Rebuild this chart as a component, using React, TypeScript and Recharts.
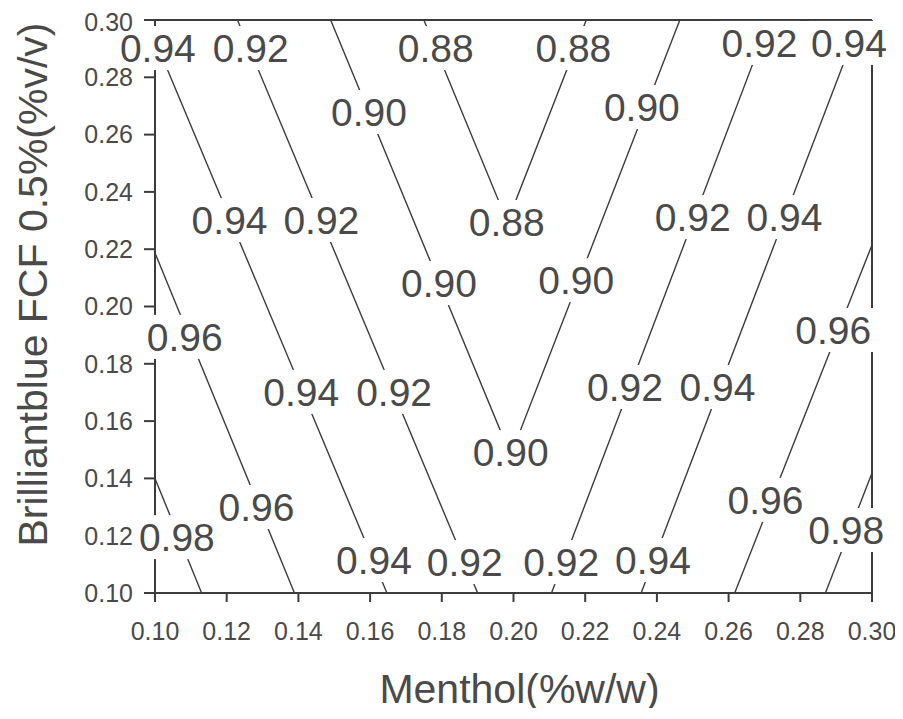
import { ComposedChart, Line, ReferenceLine, Scatter, XAxis, YAxis } from 'recharts'

// contour levels of the response surface, one entry per drawn contour line
const contourLevel = [0.98, 0.96, 0.94, 0.92, 0.9, 0.88, 0.92, 0.94, 0.96, 0.98]

// vertices of each contour (menthol %w/w)
const contourX = [
  [0.1, 0.113],
  [0.1, 0.1389],
  [0.1, 0.1647],
  [0.123, 0.19],
  [0.149, 0.1992, 0.2464],
  [0.175, 0.1983, 0.2203],
  [0.2106, 0.2714],
  [0.2356, 0.2967],
  [0.2617, 0.3],
  [0.287, 0.3],
]

// vertices of each contour (brilliant blue %v/v)
const contourY = [
  [0.14, 0.1],
  [0.2187, 0.1],
  [0.293, 0.1],
  [0.3, 0.1],
  [0.3, 0.148, 0.3],
  [0.3, 0.2295, 0.3],
  [0.1, 0.3],
  [0.1, 0.3],
  [0.1, 0.2215],
  [0.1, 0.1419],
]

// inline contour labels: where they sit and which contour they name
const labelX = [
  0.1008, 0.1267, 0.1597, 0.1783, 0.2167, 0.2358, 0.2686, 0.2936, 0.1208, 0.1464, 0.1981, 0.25, 0.2756, 0.1792, 0.2175,
  0.1083, 0.2892, 0.1408, 0.1667, 0.2311, 0.2569, 0.1992, 0.1283, 0.2703, 0.1061, 0.2928, 0.1611, 0.1864, 0.2133, 0.2389,
]
const labelY = [
  0.2902, 0.2902, 0.2679, 0.2902, 0.2902, 0.2696, 0.292, 0.292, 0.2302, 0.2302, 0.2295, 0.2312, 0.2312, 0.2082, 0.2092,
  0.1894, 0.1918, 0.1702, 0.1702, 0.1719, 0.1719, 0.1492, 0.13, 0.1325, 0.1195, 0.122, 0.1115, 0.1108, 0.1108, 0.1115,
]
const labelOn = [2, 3, 4, 5, 5, 4, 6, 7, 2, 3, 5, 6, 7, 4, 4, 1, 8, 2, 3, 6, 7, 4, 1, 8, 0, 9, 2, 3, 6, 7]

const axisTicks = [0.1, 0.12, 0.14, 0.16, 0.18, 0.2, 0.22, 0.24, 0.26, 0.28, 0.3]
const AXIS_MAX = 0.3

const INK = '#3c3c3c'
const TEXT = '#4a4a4a'
const FONT = '"Liberation Sans", Arial, sans-serif'

const contours = contourLevel.map((level, i) => ({
  level,
  points: contourX[i].map((x, j) => ({ x, y: contourY[i][j] })),
}))

const labels = labelX.map((x, i) => ({ x, y: labelY[i], level: contourLevel[labelOn[i]] }))

// white box under the text so the contour (and frame) is broken around it
function ContourLabel({ cx, cy, payload }: any) {
  if (cx == null || cy == null) return null
  return (
    <g>
      <rect x={cx - 40} y={cy - 22} width={80} height={44} fill="#fff" />
      <text x={cx} y={cy + 14} textAnchor="middle" fontSize={39} fontFamily={FONT} fill={TEXT}>
        {payload.level.toFixed(2)}
      </text>
    </g>
  )
}

const tickStyle = { fontSize: 25, fontFamily: FONT, fill: TEXT }

export default function App() {
  return (
    <div style={{ background: '#fff', width: 887, height: 712, marginBottom: -12 }}>
      <ComposedChart width={887} height={712} margin={{ top: 12, right: 23, left: 0, bottom: 0 }}>
        <XAxis
          dataKey="x"
          type="number"
          domain={[0.1, AXIS_MAX]}
          ticks={axisTicks}
          tickFormatter={(v: number) => v.toFixed(2)}
          height={127}
          tick={tickStyle}
          tickSize={9}
          tickMargin={20}
          stroke={INK}
          axisLine={{ stroke: INK, strokeWidth: 2 }}
          tickLine={{ stroke: INK, strokeWidth: 2 }}
          label={({ viewBox }: any) => (
            <text
              x={viewBox.x + viewBox.width / 2 + 6}
              y={viewBox.y + 110}
              textAnchor="middle"
              fontSize={41}
              fontFamily={FONT}
              fill={TEXT}
            >
              Menthol(%w/w)
            </text>
          )}
        />
        <YAxis
          dataKey="y"
          type="number"
          domain={[0.1, AXIS_MAX]}
          ticks={axisTicks}
          tickFormatter={(v: number) => v.toFixed(2)}
          width={147}
          tick={tickStyle}
          tickSize={11}
          tickMargin={11}
          axisLine={{ stroke: INK, strokeWidth: 2 }}
          tickLine={{ stroke: INK, strokeWidth: 2 }}
          label={({ viewBox }: any) => {
            const cx = 25
            const cy = viewBox.y + viewBox.height / 2 - 22
            return (
              <text
                x={cx}
                y={cy}
                transform={`rotate(-90, ${cx}, ${cy})`}
                textAnchor="middle"
                dominantBaseline="central"
                fontSize={41}
                fontFamily={FONT}
                fill={TEXT}
              >
                Brilliantblue FCF 0.5%(%v/v)
              </text>
            )
          }}
        />
        {/* top and right edges of the frame */}
        <ReferenceLine y={AXIS_MAX} stroke={INK} strokeWidth={2} />
        <ReferenceLine x={AXIS_MAX} stroke={INK} strokeWidth={2} />
        {contours.map((c, i) => (
          <Line
            key={i}
            data={c.points}
            dataKey="y"
            stroke={INK}
            strokeWidth={1.4}
            dot={false}
            activeDot={false}
            isAnimationActive={false}
          />
        ))}
        <Scatter data={labels} dataKey="y" shape={ContourLabel} isAnimationActive={false} />
      </ComposedChart>
    </div>
  )
}
